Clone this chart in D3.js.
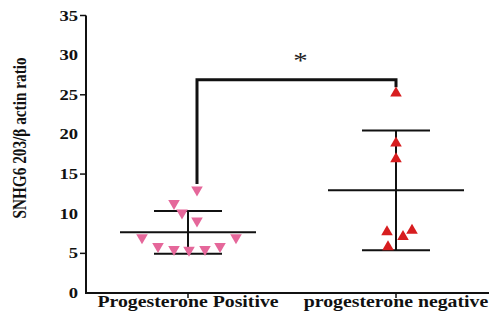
<!DOCTYPE html>
<html>
<head>
<meta charset="utf-8">
<script src="https://cdn.jsdelivr.net/npm/d3@7"></script>
<style>
body { margin: 0; background: #fff; }
svg text { font-family: 'Liberation Serif', 'DejaVu Serif', serif; font-weight: bold; }
</style>
</head>
<body>
<svg id="chart" width="489" height="322"></svg>
<script>
// values
var groups = ["Progesterone Positive", "progesterone negative"];
var yTicks = [0, 5, 10, 15, 20, 25, 30, 35];
var yTickMarks = [5, 15, 25, 35];

// [dx offset in px from group centre, value]
var positive = [[9, 13.0], [-14, 11.3], [-6, 10.1], [9, 9.1], [-46, 7.0], [48, 7.0],
                [-30, 5.9], [-14, 5.5], [1, 5.4], [17, 5.5], [32, 5.9]];
var negative = [[0, 25.2], [0, 18.9], [0, 16.9], [-9, 7.7], [16, 7.9], [7, 7.1], [-8, 5.8]];

var means = [7.65, 12.95];
var sds = [2.7, 7.55];
var bracketY = 26.9;

// the original picture is a bit wider than tall, so text is stretched sideways
var stretch = 1.2;

var svg = d3.select("#chart");

var y = d3.scaleLinear().domain([0, 35]).range([293, 15.5]);
var x = d3.scalePoint().domain(groups).range([188, 396]);

// axes
svg.append("line").attr("x1", 86).attr("x2", 86).attr("y1", y(35)).attr("y2", y(0) + 1)
    .attr("stroke", "#111").attr("stroke-width", 2);
svg.append("line").attr("x1", 85).attr("x2", 489).attr("y1", y(0)).attr("y2", y(0))
    .attr("stroke", "#111").attr("stroke-width", 2);

svg.selectAll(".ytm").data(yTickMarks).enter().append("line")
    .attr("x1", 80).attr("x2", 86)
    .attr("y1", d => y(d)).attr("y2", d => y(d))
    .attr("stroke", "#111").attr("stroke-width", 1.5);

svg.selectAll(".ytl").data(yTicks).enter().append("text")
    .attr("transform", d => "translate(78," + (y(d) + 5) + ") scale(" + stretch + ",1)")
    .attr("text-anchor", "end").attr("font-size", 15.5)
    .attr("fill", "#111")
    .text(d => d);

svg.selectAll(".xtm").data(groups).enter().append("line")
    .attr("x1", d => x(d)).attr("x2", d => x(d))
    .attr("y1", y(0)).attr("y2", y(0) + 5)
    .attr("stroke", "#111").attr("stroke-width", 1.5);

svg.selectAll(".xtl").data(groups).enter().append("text")
    .attr("transform", d => "translate(" + x(d) + ",307) scale(" + stretch + ",1)")
    .attr("text-anchor", "middle").attr("font-size", 16.5)
    .attr("fill", "#111")
    .text(d => d);

svg.append("text")
    .attr("transform", "translate(26,138) scale(" + stretch + ",1) rotate(-90)")
    .attr("text-anchor", "middle").attr("font-size", 15.3)
    .attr("fill", "#111")
    .text("SNHG6 203/\u03b2 actin ratio");

// mean and sd bars
groups.forEach(function(g, i) {
    var cx = x(g);
    var gg = svg.append("g").attr("stroke", "#111").attr("stroke-width", 2);
    gg.append("line").attr("x1", cx).attr("x2", cx)
        .attr("y1", y(means[i] + sds[i])).attr("y2", y(means[i] - sds[i]));
    gg.append("line").attr("x1", cx - 68).attr("x2", cx + 68)
        .attr("y1", y(means[i])).attr("y2", y(means[i]));
    gg.append("line").attr("x1", cx - 34).attr("x2", cx + 34)
        .attr("y1", y(means[i] + sds[i])).attr("y2", y(means[i] + sds[i]));
    gg.append("line").attr("x1", cx - 34).attr("x2", cx + 34)
        .attr("y1", y(means[i] - sds[i])).attr("y2", y(means[i] - sds[i]));
});

// significance bracket between the top points
var lx = x(groups[0]) + positive[0][0], rx = x(groups[1]) + negative[0][0];
svg.append("path")
    .attr("d", "M" + lx + "," + (y(positive[0][1]) - 6) + "V" + y(bracketY) + "H" + rx + "V" + (y(negative[0][1]) - 6))
    .attr("fill", "none").attr("stroke", "#111").attr("stroke-width", 3);
svg.append("text")
    .attr("transform", "translate(" + ((lx + rx) / 2 + 4) + ",68) scale(" + stretch + ",1)")
    .attr("text-anchor", "middle").attr("font-size", 24)
    .style("font-weight", "normal")
    .attr("fill", "#222")
    .text("*");

// points
var tri = d3.symbol().type(d3.symbolTriangle).size(58);
svg.selectAll(".pos").data(positive).enter().append("path")
    .attr("d", tri)
    .attr("transform", d => "translate(" + (x(groups[0]) + d[0]) + "," + y(d[1]) + ") rotate(180)")
    .attr("fill", "#e5679a");
svg.selectAll(".neg").data(negative).enter().append("path")
    .attr("d", tri)
    .attr("transform", d => "translate(" + (x(groups[1]) + d[0]) + "," + y(d[1]) + ")")
    .attr("fill", "#d71d1f");
</script>
</body>
</html>
